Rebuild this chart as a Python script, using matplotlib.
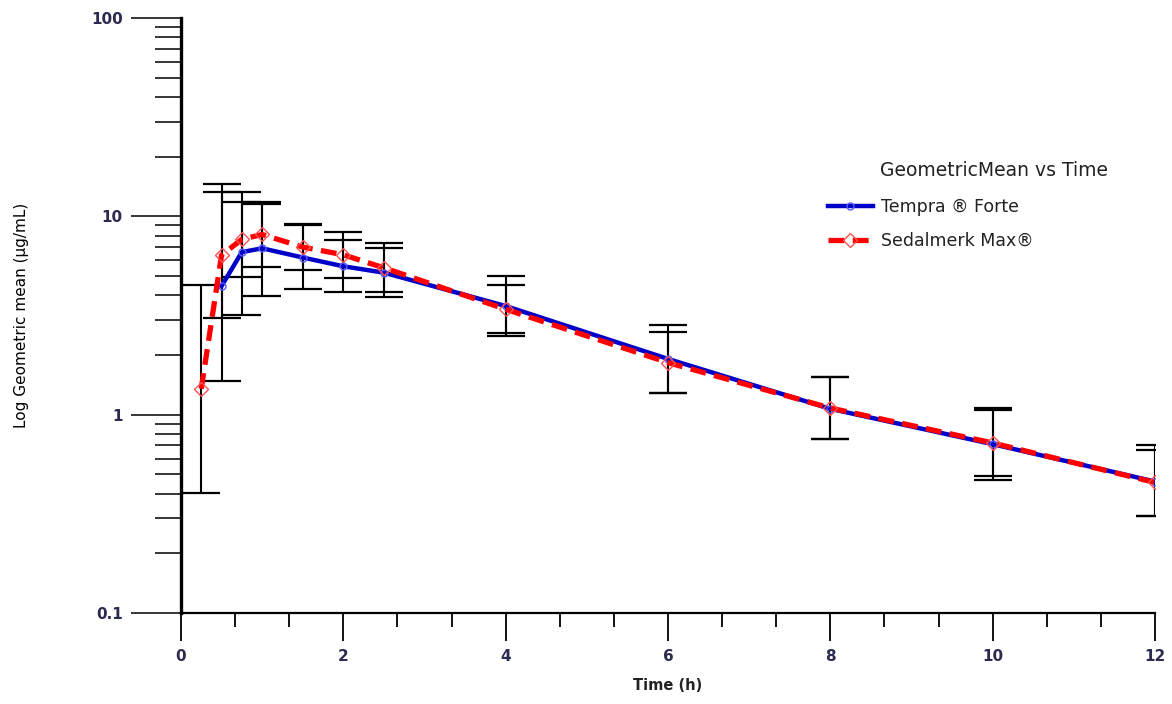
import numpy as np
import matplotlib
matplotlib.use('Agg')
import matplotlib.pyplot as plt
from matplotlib.ticker import FixedLocator, MultipleLocator, NullFormatter, FixedFormatter

# geometric mean concentrations (ug/mL) with lower / upper bounds
t_tempra = [0.5, 0.75, 1, 1.5, 2, 2.5, 4, 6, 8, 10, 12]
gm_tempra = [4.45, 6.6, 6.9, 6.2, 5.6, 5.2, 3.53, 1.91, 1.07, 0.71, 0.46]
lo_tempra = [1.47, 3.18, 3.96, 4.3, 4.15, 3.92, 2.49, 1.29, 0.75, 0.466, 0.31]
hi_tempra = [14.5, 13.3, 11.5, 9.0, 7.58, 6.9, 5.0, 2.83, 1.55, 1.08, 0.707]

t_sedal = [0.25, 0.5, 0.75, 1, 1.5, 2, 2.5, 4, 6, 8, 10, 12]
gm_sedal = [1.35, 6.37, 7.66, 8.1, 7.0, 6.4, 5.5, 3.4, 1.83, 1.08, 0.72, 0.455]
lo_sedal = [0.405, 3.07, 4.93, 5.54, 5.35, 4.88, 4.15, 2.58, 1.29, 0.75, 0.49, 0.31]
hi_sedal = [4.5, 13.3, 11.8, 11.8, 9.16, 8.3, 7.32, 4.5, 2.6, 1.55, 1.06, 0.667]

y_ticks = [0.1, 1, 10, 100]
y_ticklabels = ['0.1', '1', '10', '100']

tick_color = '#2b2b50'


def errs(gm, lo, hi):
    gm = np.array(gm)
    return [gm - np.array(lo), np.array(hi) - gm]


def main():
    fig = plt.figure(figsize=(11.72, 7.04), dpi=100)
    ax = fig.add_axes([0.1544, 0.1293, 0.8311, 0.8451])

    eb = dict(fmt='none', ecolor='black', elinewidth=1.5, capsize=13.5, capthick=1.6, zorder=1)
    ax.errorbar(t_tempra, gm_tempra, yerr=errs(gm_tempra, lo_tempra, hi_tempra), **eb)
    ax.errorbar(t_sedal, gm_sedal, yerr=errs(gm_sedal, lo_sedal, hi_sedal), **eb)

    ax.plot(t_tempra, gm_tempra, color='#0000c8', lw=3.2, marker='o', ms=5,
            mfc='none', mec='#5a5aff', mew=1.0, label='Tempra \u00ae Forte', zorder=3)
    ax.plot(t_sedal, gm_sedal, color='#ff0000', lw=3.8, ls=(0, (3, 1.6)), marker='D', ms=7,
            mfc='none', mec='#ff5050', mew=1.0, label='Sedalmerk Max\u00ae', zorder=4)

    ax.set_yscale('log')
    ax.set_xlim(0, 12)
    ax.set_ylim(0.1, 100)

    ax.yaxis.set_major_locator(FixedLocator(y_ticks))
    ax.yaxis.set_major_formatter(FixedFormatter(y_ticklabels))
    minors = [m * 10.0 ** e for e in range(-1, 2) for m in range(2, 10)]
    ax.yaxis.set_minor_locator(FixedLocator(minors))
    ax.yaxis.set_minor_formatter(NullFormatter())
    ax.xaxis.set_major_locator(MultipleLocator(2))
    ax.xaxis.set_minor_locator(MultipleLocator(2 / 3))

    ax.tick_params(axis='y', which='major', direction='out', length=36, width=1.1, pad=6)
    ax.tick_params(axis='y', which='minor', direction='out', length=19, width=1.1)
    ax.tick_params(axis='x', which='major', direction='out', length=20, width=1.3, pad=6)
    ax.tick_params(axis='x', which='minor', direction='out', length=10, width=1.3)
    for lab in ax.get_xticklabels() + ax.get_yticklabels():
        lab.set_fontsize(11)
        lab.set_fontweight('bold')
        lab.set_color(tick_color)

    for s in ['top', 'right']:
        ax.spines[s].set_visible(False)
    ax.spines['left'].set_linewidth(2.4)
    ax.spines['bottom'].set_linewidth(1.6)

    ax.set_xlabel('Time (h)', fontsize=10.5, fontweight='bold', color='#222222', labelpad=10)
    ax.set_ylabel('Log Geometric mean (\u00b5g/mL)', fontsize=11,
                  family=['Liberation Sans Narrow', 'DejaVu Sans'])
    ax.yaxis.set_label_coords(-0.156, 0.5)

    fig.text(880 / 1172, 1 - 170 / 704, 'GeometricMean vs Time', fontsize=13.5,
             va='center', ha='left', color='#222222')
    leg = ax.legend(loc='upper left', bbox_to_anchor=(812 / 1172, 1 - 182 / 704),
                    bbox_transform=fig.transFigure, frameon=False, fontsize=12.5,
                    handlelength=2.6, handletextpad=0.5, labelspacing=0.95)
    for txt in leg.get_texts():
        txt.set_color('#222222')

    fig.savefig('out.png', dpi=100)


if __name__ == "__main__":
    main()
